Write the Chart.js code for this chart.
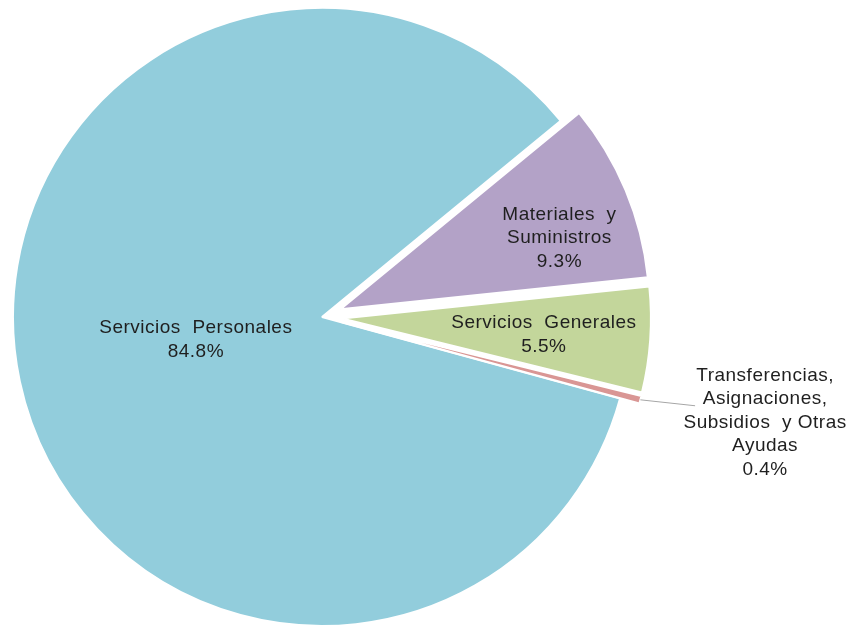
<!DOCTYPE html>
<html lang="es">
<head>
<meta charset="utf-8">
<title>Distribución del gasto por capítulo</title>
<script src="https://cdn.jsdelivr.net/npm/chart.js@4.4.1/dist/chart.umd.min.js"></script>
<style>
  html, body { margin: 0; padding: 0; background: #ffffff; }
</style>
</head>
<body>
<canvas id="gastoChart" width="851" height="627"></canvas>
<script>
// Capítulos del gasto
const categories = [
  "Servicios Personales",
  "Materiales y Suministros",
  "Servicios Generales",
  "Transferencias, Asignaciones, Subsidios y Otras Ayudas"
];

// Porcentaje del total por capítulo
const shares = [84.8, 9.3, 5.5, 0.4];

// Renglones de cada etiqueta, tal como aparecen en el gráfico
const labelLines = [
  ["Servicios  Personales"],
  ["Materiales  y", "Suministros"],
  ["Servicios  Generales"],
  ["Transferencias,", "Asignaciones,", "Subsidios  y Otras", "Ayudas"]
];

const sliceColors = ["#92CDDC", "#B3A2C7", "#C3D69B", "#D99694"];

// Excel-style "exploded" slices: shift the arc along its mid angle while it is drawn.
// (Chart.js' own `offset` also grows the radius and drops very thin slices.)
const explodeSlices = {
  id: "explodeSlices",
  beforeDatasetDraw(chart, args, opts) {
    args.meta.data.forEach((arc, i) => {
      const d = opts.distance[i] || 0;
      const mid = (arc.startAngle + arc.endAngle) / 2;
      arc._home = { x: arc.x, y: arc.y };
      arc.x += Math.cos(mid) * d;
      arc.y += Math.sin(mid) * d;
    });
  },
  afterDatasetDraw(chart, args) {
    args.meta.data.forEach(arc => {
      arc.x = arc._home.x;
      arc.y = arc._home.y;
    });
  }
};

// Data labels placed from each arc's own geometry
const sliceLabels = {
  id: "sliceLabels",
  afterDatasetsDraw(chart, args, opts) {
    const ctx = chart.ctx;
    const arcs = chart.getDatasetMeta(0).data;
    const shift = chart.options.plugins.explodeSlices.distance;
    const total = shares.reduce((a, b) => a + b, 0);

    ctx.save();
    ctx.font = opts.font;
    ctx.letterSpacing = opts.letterSpacing;
    ctx.textAlign = "center";
    ctx.textBaseline = "middle";

    arcs.forEach((arc, i) => {
      const place = opts.places[i];
      const mid = (arc.startAngle + arc.endAngle) / 2;
      const cx = arc.x + Math.cos(mid) * (shift[i] || 0);
      const cy = arc.y + Math.sin(mid) * (shift[i] || 0);
      const r = arc.outerRadius * place.frac;
      const lx = cx + Math.cos(mid) * r + place.dx;
      const ly = cy + Math.sin(mid) * r + place.dy;

      if (place.leader) {
        ctx.beginPath();
        ctx.strokeStyle = opts.leaderColor;
        ctx.lineWidth = 1;
        ctx.moveTo(cx + Math.cos(mid) * arc.outerRadius, cy + Math.sin(mid) * arc.outerRadius);
        ctx.lineTo(lx + place.leader[0], ly + place.leader[1]);
        ctx.stroke();
      }

      const pct = (shares[i] / total * 100).toFixed(1) + "%";
      const lines = labelLines[i].concat(pct);
      const top = ly - (lines.length - 1) * opts.lineHeight / 2;
      ctx.fillStyle = opts.color;
      lines.forEach((t, k) => ctx.fillText(t, lx, top + k * opts.lineHeight));
    });
    ctx.restore();
  }
};

new Chart(document.getElementById("gastoChart"), {
  type: "pie",
  data: {
    labels: categories,
    datasets: [{
      data: shares,
      backgroundColor: sliceColors,
      borderColor: "#ffffff",
      borderWidth: 2,
      hoverOffset: 0
    }]
  },
  options: {
    responsive: false,
    animation: false,
    events: [],
    rotation: 105.3,
    radius: 309,
    layout: {
      padding: { left: 0, right: 207, top: 7, bottom: 0 }
    },
    plugins: {
      legend: { display: false },
      tooltip: { enabled: false },
      explodeSlices: {
        distance: [0, 20, 20, 20]
      },
      sliceLabels: {
        font: "19px 'Liberation Sans', Arial, sans-serif",
        letterSpacing: "0.5px",
        color: "#1f1f1f",
        leaderColor: "#a6a6a6",
        lineHeight: 23.5,
        places: [
          { frac: 0.4175, dx: 0, dy: -4 },
          { frac: 0.768, dx: 0, dy: 20 },
          { frac: 0.655, dx: 0, dy: 2.5 },
          { frac: 1.417, dx: 0, dy: -9.5, leader: [-70, -17] }
        ]
      }
    }
  },
  plugins: [explodeSlices, sliceLabels]
});
</script>
</body>
</html>
